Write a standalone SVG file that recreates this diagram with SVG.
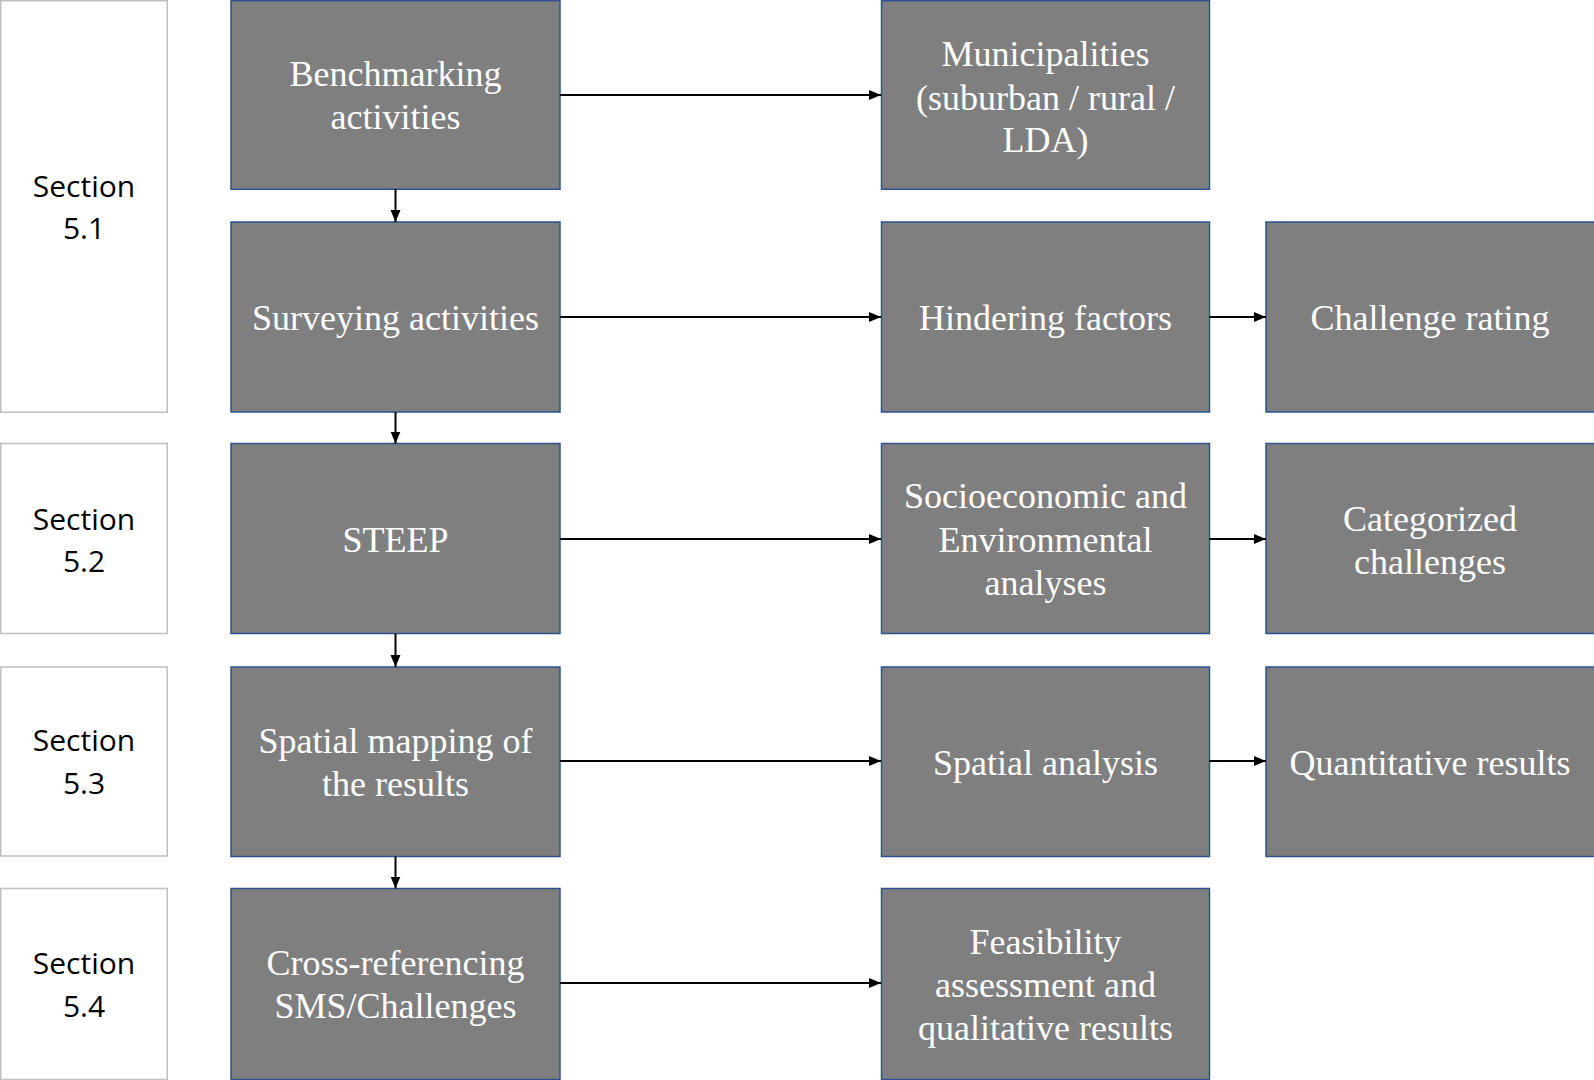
<svg xmlns="http://www.w3.org/2000/svg" width="1594" height="1080" viewBox="0 0 1594 1080">
<defs>
<style>
.sec{fill:#ffffff;stroke:#bfbfbf;stroke-width:1.5}
.box{fill:#7f7f7f;stroke:#2f528f;stroke-width:1.5}
.st{font-family:"Open Sans","Liberation Sans",sans-serif;font-size:30px;fill:#000000;text-anchor:middle}
.bt{font-family:"Liberation Serif","Times New Roman",serif;font-size:36px;fill:#ffffff;text-anchor:middle}
.cn{stroke:#000000;stroke-width:2;fill:none;marker-end:url(#ah)}
</style>
<marker id="ah" viewBox="0 0 12 12" refX="12" refY="6" markerWidth="12" markerHeight="12" markerUnits="userSpaceOnUse" orient="auto">
<path d="M0,1 L12,6 L0,11 Z" fill="#000000"/>
</marker>
</defs>
<rect width="1594" height="1080" fill="#ffffff"/>

<g id="section51"><rect class="sec" x="0.75" y="0.75" width="166.5" height="411.5"/><text class="st" x="84" y="197">Section</text><text class="st" x="84" y="239">5.1</text></g>
<g id="section52"><rect class="sec" x="0.75" y="443.5" width="166.5" height="190"/><text class="st" x="84" y="529.5">Section</text><text class="st" x="84" y="572">5.2</text></g>
<g id="section53"><rect class="sec" x="0.75" y="667" width="166.5" height="189"/><text class="st" x="84" y="751">Section</text><text class="st" x="84" y="794">5.3</text></g>
<g id="section54"><rect class="sec" x="0.75" y="888.5" width="166.5" height="191"/><text class="st" x="84" y="974">Section</text><text class="st" x="84" y="1016.5">5.4</text></g>

<g id="benchmarking"><rect class="box" x="231" y="0.75" width="329" height="188.5"/><text class="bt" x="395.5" y="86">Benchmarking</text><text class="bt" x="395.5" y="129">activities</text></g>
<g id="surveying"><rect class="box" x="231" y="222" width="329" height="190"/><text class="bt" x="395.5" y="330">Surveying activities</text></g>
<g id="steep"><rect class="box" x="231" y="443.5" width="329" height="190"/><text class="bt" x="395.5" y="552">STEEP</text></g>
<g id="spatialmapping"><rect class="box" x="231" y="667" width="329" height="189.5"/><text class="bt" x="395.5" y="753">Spatial mapping of</text><text class="bt" x="395.5" y="796">the results</text></g>
<g id="crossref"><rect class="box" x="231" y="888.5" width="329" height="191"/><text class="bt" x="395.5" y="975">Cross-referencing</text><text class="bt" x="395.5" y="1017.5">SMS/Challenges</text></g>

<g id="municipalities"><rect class="box" x="881.5" y="0.75" width="328" height="188.5"/><text class="bt" x="1045.5" y="66">Municipalities</text><text class="bt" x="1045.5" y="109.5">(suburban / rural /</text><text class="bt" x="1045.5" y="152">LDA)</text></g>
<g id="hindering"><rect class="box" x="881.5" y="222" width="328" height="190"/><text class="bt" x="1045.5" y="330">Hindering factors</text></g>
<g id="socioeconomic"><rect class="box" x="881.5" y="443.5" width="328" height="190"/><text class="bt" x="1045.5" y="508">Socioeconomic and</text><text class="bt" x="1045.5" y="551.5">Environmental</text><text class="bt" x="1045.5" y="595">analyses</text></g>
<g id="spatialanalysis"><rect class="box" x="881.5" y="667" width="328" height="189.5"/><text class="bt" x="1045.5" y="774.5">Spatial analysis</text></g>
<g id="feasibility"><rect class="box" x="881.5" y="888.5" width="328" height="191"/><text class="bt" x="1045.5" y="953.5">Feasibility</text><text class="bt" x="1045.5" y="997">assessment and</text><text class="bt" x="1045.5" y="1040">qualitative results</text></g>

<g id="challengerating"><rect class="box" x="1266" y="222" width="330" height="190"/><text class="bt" x="1430" y="330">Challenge rating</text></g>
<g id="categorized"><rect class="box" x="1266" y="443.5" width="330" height="190"/><text class="bt" x="1430" y="530.5">Categorized</text><text class="bt" x="1430" y="574">challenges</text></g>
<g id="quantitative"><rect class="box" x="1266" y="667" width="330" height="189.5"/><text class="bt" x="1430" y="774.5">Quantitative results</text></g>

<g id="connectors">
<line class="cn" x1="560" y1="95" x2="881" y2="95"/>
<line class="cn" x1="560" y1="317" x2="881" y2="317"/>
<line class="cn" x1="560" y1="539" x2="881" y2="539"/>
<line class="cn" x1="560" y1="761" x2="881" y2="761"/>
<line class="cn" x1="560" y1="983" x2="881" y2="983"/>
<line class="cn" x1="1209.5" y1="317" x2="1266" y2="317"/>
<line class="cn" x1="1209.5" y1="539" x2="1266" y2="539"/>
<line class="cn" x1="1209.5" y1="761" x2="1266" y2="761"/>
<line class="cn" x1="395.5" y1="189" x2="395.5" y2="222"/>
<line class="cn" x1="395.5" y1="412" x2="395.5" y2="443.5"/>
<line class="cn" x1="395.5" y1="633.5" x2="395.5" y2="667"/>
<line class="cn" x1="395.5" y1="856.5" x2="395.5" y2="888.5"/>
</g>
</svg>
